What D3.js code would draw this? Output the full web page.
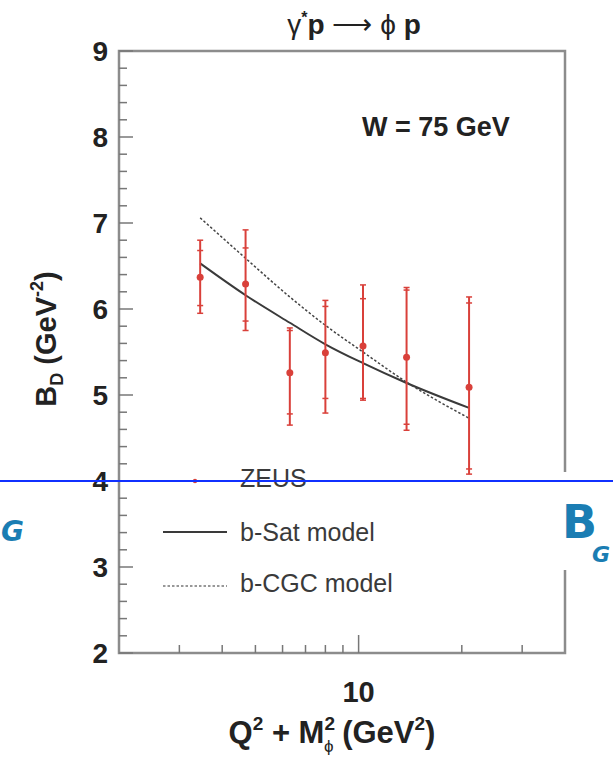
<!DOCTYPE html>
<html><head><meta charset="utf-8">
<script src="https://cdn.jsdelivr.net/npm/d3@7"></script>
<style>body{margin:0;background:#fff}svg{display:block}</style>
</head><body>
<svg id="c" width="613" height="758"></svg>
<script>
// ---- data ----
const xVals   = [3.45, 4.68, 6.3, 8.0, 10.3, 13.8, 21.0];
const bD      = [6.37, 6.29, 5.26, 5.49, 5.57, 5.44, 5.09];
const statHi  = [6.68, 6.71, 5.75, 6.03, 6.12, 6.22, 6.07];
const statLo  = [6.04, 5.86, 4.78, 4.96, 4.96, 4.66, 4.14];
const totHi   = [6.80, 6.92, 5.78, 6.10, 6.28, 6.25, 6.14];
const totLo   = [5.95, 5.75, 4.65, 4.79, 4.94, 4.59, 4.08];
const bSat    = [6.53, 6.16, 5.84, 5.59, 5.37, 5.14, 4.85];
const bCGC    = [7.06, 6.59, 6.14, 5.81, 5.50, 5.15, 4.73];
const yTicks  = [2, 3, 4, 5, 6, 7, 8, 9];
const xMinor  = [3, 4, 5, 6, 7, 8, 9, 20, 30];
const xMajor  = [10];
const legendLabels = ["ZEUS", "b-Sat model", "b-CGC model"];

const svg = d3.select("#c");
const FONT = "'Liberation Sans', Arial, Helvetica, sans-serif";
const L = 119, R = 565, T = 51, B = 653;
const x = d3.scaleLog().domain([2, 40]).range([L, R]);
const y = d3.scaleLinear().domain([2, 9]).range([B, T]);

// frame
svg.append("rect").attr("x", L).attr("y", T).attr("width", R - L).attr("height", B - T)
  .attr("fill", "none").attr("stroke", "#8c8c8c").attr("stroke-width", 2.5);

// y ticks (inside)
const yMinorVals = d3.range(2, 9.001, 0.2);
svg.append("g").selectAll("line").data(yMinorVals).join("line")
  .attr("x1", L).attr("x2", d => L + (Math.abs(d - Math.round(d)) < 1e-6 ? 14 : 8))
  .attr("y1", d => y(d)).attr("y2", d => y(d))
  .attr("stroke", "#777").attr("stroke-width", 1.5);
svg.append("g").selectAll("text").data(yTicks).join("text")
  .attr("x", 108).attr("y", d => y(d)).attr("dy", "0.36em")
  .attr("text-anchor", "end").attr("font-family", FONT).attr("font-weight", "bold")
  .attr("font-size", 28).attr("fill", "#222").text(d => d);

// x ticks (inside, upward)
svg.append("g").selectAll("line").data(xMinor).join("line")
  .attr("x1", d => x(d)).attr("x2", d => x(d)).attr("y1", B).attr("y2", B - 8)
  .attr("stroke", "#777").attr("stroke-width", 1.5);
svg.append("g").selectAll("line").data(xMajor).join("line")
  .attr("x1", d => x(d)).attr("x2", d => x(d)).attr("y1", B).attr("y2", B - 18)
  .attr("stroke", "#777").attr("stroke-width", 1.5);
svg.append("g").selectAll("text").data(xMajor).join("text")
  .attr("x", d => x(d)).attr("y", 702).attr("text-anchor", "middle")
  .attr("font-family", FONT).attr("font-weight", "bold").attr("font-size", 29)
  .attr("fill", "#222").text(d => d);

// x title
const xt = svg.append("text").attr("x", 332).attr("y", 743).attr("text-anchor", "middle")
  .attr("font-family", FONT).attr("font-weight", "bold").attr("font-size", 31).attr("fill", "#222");
xt.append("tspan").text("Q");
xt.append("tspan").attr("font-size", 19).attr("dy", -13).text("2");
xt.append("tspan").attr("dy", 13).text(" + M");
xt.append("tspan").attr("font-size", 19).attr("dy", -13).text("2");
xt.append("tspan").attr("font-size", 17).attr("dx", -11).attr("dy", 22).attr("font-weight", "normal").text("ϕ");
xt.append("tspan").attr("dy", -9).text("  (GeV");
xt.append("tspan").attr("font-size", 19).attr("dy", -13).text("2");
xt.append("tspan").attr("dy", 13).text(")");

// y title
const yt = svg.append("text").attr("transform", "translate(56,339) rotate(-90)")
  .attr("text-anchor", "middle").attr("font-family", FONT).attr("font-weight", "bold")
  .attr("font-size", 29).attr("fill", "#222");
yt.append("tspan").text("B");
yt.append("tspan").attr("font-size", 18).attr("dy", 7).text("D");
yt.append("tspan").attr("dy", -7).text("  (GeV");
yt.append("tspan").attr("font-size", 18).attr("dy", -13).text("-2");
yt.append("tspan").attr("dy", 13).text(")");

// title
const tt = svg.append("text").attr("x", 354).attr("y", 34).attr("text-anchor", "middle")
  .attr("font-family", FONT).attr("font-size", 28).attr("fill", "#222");
tt.append("tspan").text("γ");
tt.append("tspan").attr("font-size", 16).attr("dy", -11).attr("font-weight", "bold").text("*");
tt.append("tspan").attr("dy", 11).attr("font-weight", "bold").text("p ");
tt.append("tspan").text("⟶ ϕ ");
tt.append("tspan").attr("font-weight", "bold").text("p");

// W label
svg.append("text").attr("x", 362).attr("y", 136).attr("font-family", FONT)
  .attr("font-weight", "bold").attr("font-size", 27).attr("fill", "#222").text("W = 75 GeV");

// curves
const line = d3.line().x((d, i) => x(xVals[i])).y(d => y(d)).curve(d3.curveMonotoneX);
svg.append("path").attr("d", line(bSat)).attr("fill", "none").attr("stroke", "#3a3a3a").attr("stroke-width", 2);
svg.append("path").attr("d", line(bCGC)).attr("fill", "none").attr("stroke", "#444")
  .attr("stroke-width", 1.5).attr("stroke-dasharray", "2.5,2");

// data
const RED = "#d9403a";
const pts = xVals.map((v, i) => ({x: v, y: bD[i], sh: statHi[i], sl: statLo[i], th: totHi[i], tl: totLo[i]}));
const g = svg.append("g");
g.selectAll("line.err").data(pts).join("line").attr("class", "err")
  .attr("x1", d => x(d.x)).attr("x2", d => x(d.x)).attr("y1", d => y(d.th)).attr("y2", d => y(d.tl))
  .attr("stroke", RED).attr("stroke-width", 2);
["sh", "sl", "th", "tl"].forEach(k => {
  g.selectAll("line.t" + k).data(pts).join("line").attr("class", "t" + k)
    .attr("x1", d => x(d.x) - 3).attr("x2", d => x(d.x) + 3)
    .attr("y1", d => y(d[k])).attr("y2", d => y(d[k]))
    .attr("stroke", RED).attr("stroke-width", 1.5);
});
g.selectAll("circle").data(pts).join("circle")
  .attr("cx", d => x(d.x)).attr("cy", d => y(d.y)).attr("r", 3.5).attr("fill", RED);

// legend
svg.append("circle").attr("cx", 195).attr("cy", 481).attr("r", 2.2).attr("fill", RED);
svg.append("line").attr("x1", 163).attr("x2", 227).attr("y1", 532).attr("y2", 532)
  .attr("stroke", "#3a3a3a").attr("stroke-width", 2);
svg.append("line").attr("x1", 163).attr("x2", 227).attr("y1", 586).attr("y2", 586)
  .attr("stroke", "#777").attr("stroke-width", 1.5).attr("stroke-dasharray", "2.5,2");
svg.append("g").selectAll("text").data(legendLabels).join("text")
  .attr("x", 240).attr("y", (d, i) => [487, 541, 592][i])
  .attr("font-family", FONT).attr("font-size", 25).attr("fill", "#3a3a3a").text(d => d);

// overlay slide elements
svg.append("rect").attr("x", 556).attr("y", 472).attr("width", 57).attr("height", 98).attr("fill", "#fff");
const BG = "#1a7db3";
const bg = svg.append("text").attr("x", 562).attr("y", 538).attr("font-family", "'DejaVu Sans', sans-serif")
  .attr("font-weight", "bold").attr("font-size", 46).attr("fill", BG);
bg.append("tspan").text("B");
bg.append("tspan").attr("font-size", 22).attr("font-style", "italic").attr("dx", -5).attr("dy", 24).text("G");
svg.append("text").attr("x", 1).attr("y", 541).attr("font-family", "'DejaVu Sans', sans-serif")
  .attr("font-weight", "bold").attr("font-style", "italic").attr("font-size", 28).attr("fill", BG).text("G");
svg.append("line").attr("x1", 0).attr("x2", 613).attr("y1", 481).attr("y2", 481)
  .attr("stroke", "#1030ff").attr("stroke-width", 2);
</script>
</body></html>
